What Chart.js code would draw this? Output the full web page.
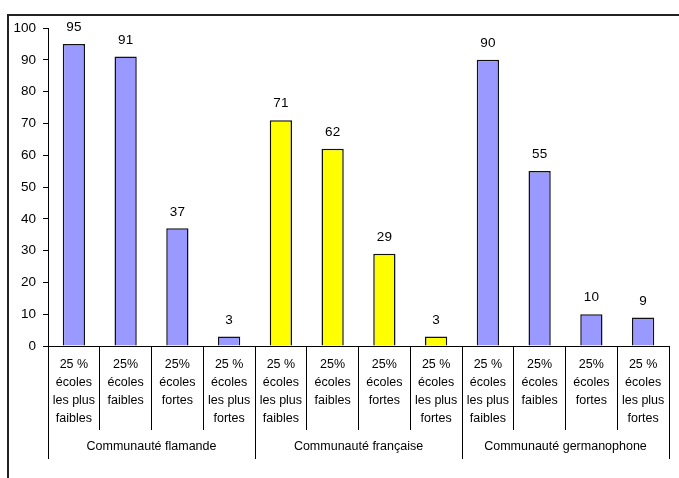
<!DOCTYPE html>
<html>
<head>
<meta charset="utf-8">
<script src="https://cdn.jsdelivr.net/npm/chart.js@4/dist/chart.umd.min.js"></script>
<style>
  html, body { margin: 0; padding: 0; background: #fff; }
  #wrap { position: relative; width: 679px; height: 478px; overflow: hidden; }
  #frame { position: absolute; left: 7px; top: 14px; width: 700px; height: 500px;
           border-top: 2px solid #222; border-left: 2px solid #222; pointer-events: none; }
  canvas { position: absolute; left: 0; top: 0; }
</style>
</head>
<body>
<div id="wrap">
  <canvas id="chart" width="679" height="478"></canvas>
  <div id="frame"></div>
</div>
<script>
const categories = [
  ['25 %', 'écoles', 'les plus', 'faibles'],
  ['25%', 'écoles', 'faibles'],
  ['25%', 'écoles', 'fortes'],
  ['25 %', 'écoles', 'les plus', 'fortes'],
  ['25 %', 'écoles', 'les plus', 'faibles'],
  ['25%', 'écoles', 'faibles'],
  ['25%', 'écoles', 'fortes'],
  ['25 %', 'écoles', 'les plus', 'fortes'],
  ['25 %', 'écoles', 'les plus', 'faibles'],
  ['25%', 'écoles', 'faibles'],
  ['25%', 'écoles', 'fortes'],
  ['25 %', 'écoles', 'les plus', 'fortes']
];
const values = [95, 91, 37, 3, 71, 62, 29, 3, 90, 55, 10, 9];
const groups = ['Communauté flamande', 'Communauté française', 'Communauté germanophone'];
const groupColors = ['#9999FF', '#FFFF00', '#9999FF'];
const yMin = 0;
const yMax = 100;
const yStep = 10;

const FONT = '"Liberation Sans", Arial, sans-serif';
const perGroup = categories.length / groups.length;
const barColors = values.map((v, i) => groupColors[Math.floor(i / perGroup)]);

// value above each bar
const valueLabels = {
  id: 'valueLabels',
  afterDatasetsDraw(chart) {
    const ctx = chart.ctx;
    const meta = chart.getDatasetMeta(0);
    ctx.save();
    ctx.font = '13.5px ' + FONT;
    ctx.fillStyle = '#000';
    ctx.textAlign = 'center';
    ctx.textBaseline = 'middle';
    meta.data.forEach((bar, i) => {
      ctx.fillText(String(values[i]), bar.x, bar.y - 16.5);
    });
    ctx.restore();
  }
};

new Chart(document.getElementById('chart'), {
  type: 'bar',
  data: {
    labels: categories,
    datasets: [{
      data: values,
      backgroundColor: barColors,
      borderColor: '#111',
      borderWidth: 1.5,
      barPercentage: 0.43,
      categoryPercentage: 1
    }]
  },
  options: {
    responsive: false,
    animation: false,
    layout: { padding: { left: 0, top: 28, right: 10, bottom: 19 } },
    plugins: {
      legend: { display: false },
      tooltip: { enabled: false }
    },
    scales: {
      x: {
        weight: 0,
        offset: true,
        grid: { offset: true, drawOnChartArea: false, tickLength: 84, color: '#000', lineWidth: 1 },
        border: { display: true, color: '#000', width: 1 },
        ticks: {
          autoSkip: false, maxRotation: 0, minRotation: 0, padding: -74,
          color: '#000', font: { family: FONT, size: 12.5, lineHeight: 1.42 }
        },
        afterFit: (s) => { s.height = 84; }
      },
      x2: {
        type: 'category',
        position: 'bottom',
        weight: 1,
        labels: groups,
        offset: true,
        grid: { offset: true, drawOnChartArea: false, tickLength: 29, color: '#000', lineWidth: 1 },
        border: { display: false },
        ticks: {
          autoSkip: false, maxRotation: 0, minRotation: 0, padding: -21,
          color: '#000', font: { family: FONT, size: 12.5, lineHeight: 1.42 }
        },
        afterFit: (s) => { s.height = 29; }
      },
      y: {
        min: yMin,
        max: yMax,
        grid: { drawOnChartArea: false, tickLength: 5, color: '#000' },
        border: { display: true, color: '#000', width: 1 },
        ticks: { stepSize: yStep, padding: 7, color: '#000', font: { family: FONT, size: 13.5 } },
        afterFit: (s) => { s.width = 48; }
      }
    }
  },
  plugins: [valueLabels]
});
</script>
</body>
</html>
